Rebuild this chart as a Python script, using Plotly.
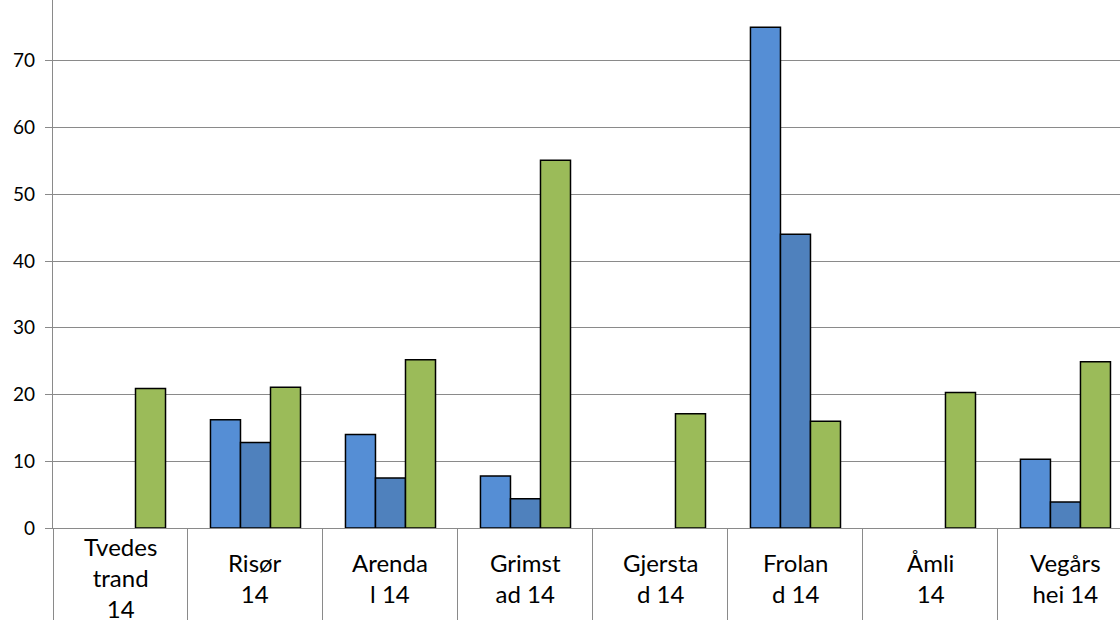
import plotly.graph_objects as go

# Kommuner (wrapped the way the axis labels break)
categories = ["Tvedestrand 14", "Risør 14", "Arendal 14", "Grimstad 14",
              "Gjerstad 14", "Froland 14", "Åmli 14", "Vegårshei 14"]
tick_labels = ["Tvedes<br>trand<br>14", "Risør<br>14", "Arenda<br>l 14", "Grimst<br>ad 14",
               "Gjersta<br>d 14", "Frolan<br>d 14", "Åmli<br>14", "Vegårs<br>hei 14"]

series_a = [None, 16.2, 14.0, 7.8, None, 75.0, None, 10.3]
series_b = [None, 12.8, 7.5, 4.4, None, 44.0, None, 3.9]
series_c = [20.9, 21.1, 25.2, 55.1, 17.1, 16.0, 20.3, 24.9]

y_ticks = [0, 10, 20, 30, 40, 50, 60, 70]

colors = ["#558ED5", "#4F81BD", "#9BBB59"]
grid = "#8A8A8A"
font_family = "Lato, Carlito, Calibri, sans-serif"

fig = go.Figure()
for vals, col in zip([series_a, series_b, series_c], colors):
    fig.add_trace(go.Bar(
        x=categories, y=vals,
        marker=dict(color=col, line=dict(color="#000000", width=1.5)),
        showlegend=False,
    ))

fig.update_layout(
    width=1120, height=620,
    margin=dict(l=53, r=0, t=0, b=90),
    paper_bgcolor="white", plot_bgcolor="white",
    barmode="group", bargap=0.333, bargroupgap=0,
    font=dict(family=font_family, color="#000000"),
)

fig.update_xaxes(
    type="category",
    range=[-0.5, 7.404],
    showgrid=False,
    showline=True, linecolor=grid, linewidth=1.3,
    tickson="boundaries", ticks="outside", ticklen=92,
    tickcolor=grid, tickwidth=1.3,
    showticklabels=False,
)

fig.update_yaxes(
    range=[0, 79.1],
    tickvals=y_ticks,
    showgrid=True, gridcolor=grid, gridwidth=1.3,
    showline=True, linecolor=grid, linewidth=1.3,
    ticks="outside", ticklen=7, tickcolor=grid, tickwidth=1.3,
    ticklabelstandoff=6,
    tickfont=dict(size=19, family=font_family, color="#000000"),
    zeroline=False,
)

# Category labels, vertically centred under each group
for cat, lab in zip(categories, tick_labels):
    fig.add_annotation(
        x=cat, xref="x", y=-0.094, yref="paper",
        text=lab, showarrow=False,
        xanchor="center", yanchor="middle", align="center",
        font=dict(size=24, family=font_family, color="#000000"),
    )

# Top tick label of the value axis, sitting just above the plotting area
fig.add_annotation(
    x=-13 / 1067, xref="paper", y=80, yref="y",
    text="80", showarrow=False, xanchor="right", yanchor="middle",
    font=dict(size=19, family=font_family, color="#000000"),
)

fig.write_html("out.html")
